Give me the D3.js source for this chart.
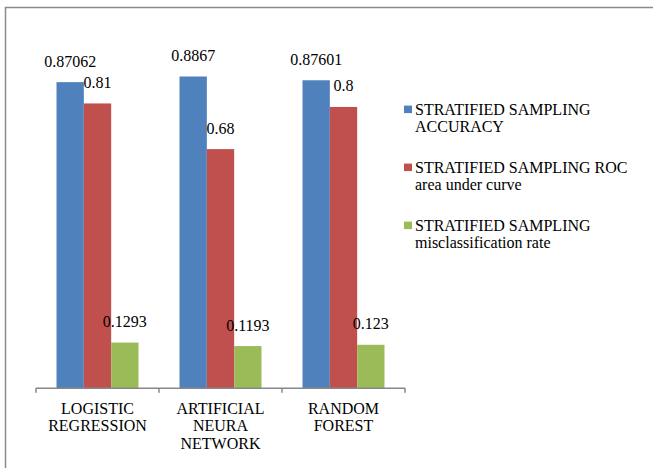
<!DOCTYPE html>
<html>
<head>
<meta charset="utf-8">
<script src="https://cdn.jsdelivr.net/npm/d3@7"></script>
<style>
  html, body { margin: 0; padding: 0; background: #ffffff; }
  svg { display: block; }
</style>
</head>
<body>
<svg id="chart" width="653" height="468"></svg>
<script>
// Model categories (multi-line axis labels)
const categories = ["LOGISTIC REGRESSION", "ARTIFICIAL NEURA NETWORK", "RANDOM FOREST"];
const categoryLines = [["LOGISTIC", "REGRESSION"], ["ARTIFICIAL", "NEURA", "NETWORK"], ["RANDOM", "FOREST"]];

// Series
const seriesNames = ["accuracy", "roc", "misclass"];
const seriesLegend = [
  ["STRATIFIED SAMPLING", "ACCURACY"],
  ["STRATIFIED SAMPLING ROC", "area under curve"],
  ["STRATIFIED SAMPLING", "misclassification rate"]
];
const seriesColors = ["#4F81BD", "#C0504D", "#9BBB59"];

const accuracy = [0.87062, 0.8867, 0.87601];
const roc = [0.81, 0.68, 0.8];
const misclass = [0.1293, 0.1193, 0.123];

const valueLabels = {
  accuracy: ["0.87062", "0.8867", "0.87601"],
  roc: ["0.81", "0.68", "0.8"],
  misclass: ["0.1293", "0.1193", "0.123"]
};

const seriesValues = { accuracy, roc, misclass };

const FONT = "'Liberation Serif', 'Times New Roman', 'DejaVu Serif', serif";

const svg = d3.select("#chart")
  .attr("font-family", FONT)
  .attr("font-size", 16);

// Chart frame
svg.append("rect")
  .attr("x", 5.5).attr("y", 7.5)
  .attr("width", 720).attr("height", 520)
  .attr("fill", "none")
  .attr("stroke", "#8a8a8a")
  .attr("stroke-width", 1.5);

const plot = { left: 36, right: 405, top: 36.7, bottom: 388 };

const x0 = d3.scaleBand()
  .domain(categories)
  .range([plot.left, plot.right])
  .paddingInner(0).paddingOuter(0);

const x1 = d3.scaleBand()
  .domain(seriesNames)
  .range([0, x0.bandwidth()])
  .paddingInner(0).paddingOuter(0.75);

const y = d3.scaleLinear().domain([0, 1]).range([plot.bottom, plot.top]);

function label(sel) {
  return sel.attr("font-family", FONT).attr("font-size", 16).attr("fill", "#000");
}

// Bars
const groups = svg.append("g").selectAll("g")
  .data(categories)
  .join("g")
  .attr("transform", d => `translate(${x0(d)},0)`);

groups.each(function(cat, ci) {
  const g = d3.select(this);
  seriesNames.forEach((s, si) => {
    const v = seriesValues[s][ci];
    g.append("rect")
      .attr("x", x1(s))
      .attr("y", y(v))
      .attr("width", x1.bandwidth())
      .attr("height", y(0) - y(v))
      .attr("fill", seriesColors[si]);
    g.append("text")
      .call(label)
      .attr("x", x1(s) + x1.bandwidth() / 2)
      .attr("y", y(v) - 15.5)
      .attr("text-anchor", "middle")
      .text(valueLabels[s][ci]);
  });
});

// Category axis
const axis = svg.append("g")
  .attr("transform", `translate(0,${plot.bottom})`)
  .call(d3.axisBottom(x0).tickSize(0).tickFormat(""));
axis.select(".domain").remove();
axis.append("line")
  .attr("x1", plot.left).attr("x2", plot.right)
  .attr("y1", 0.3).attr("y2", 0.3)
  .attr("stroke", "#878787").attr("stroke-width", 1.5);
const tickEdges = categories.map(c => x0(c)).concat([x0(categories[categories.length - 1]) + x0.bandwidth()]);
axis.selectAll(".edge-tick")
  .data(tickEdges)
  .join("line")
  .attr("class", "edge-tick")
  .attr("x1", d => d).attr("x2", d => d)
  .attr("y1", 0).attr("y2", 4.7)
  .attr("stroke", "#878787").attr("stroke-width", 1.5);

categories.forEach((c, i) => {
  const t = svg.append("text")
    .call(label)
    .attr("x", x0(c) + x0.bandwidth() / 2)
    .attr("y", plot.bottom + 25.6)
    .attr("text-anchor", "middle");
  categoryLines[i].forEach((ln, li) => {
    t.append("tspan")
      .attr("x", x0(c) + x0.bandwidth() / 2)
      .attr("dy", li === 0 ? 0 : 17.5)
      .text(ln);
  });
});

// Legend
const legend = svg.append("g").attr("transform", "translate(404,114.6)");
seriesNames.forEach((s, i) => {
  const item = legend.append("g").attr("transform", `translate(0,${i * 58})`);
  item.append("rect")
    .attr("x", 0).attr("y", -9)
    .attr("width", 8).attr("height", 7.5)
    .attr("fill", seriesColors[i]);
  const t = item.append("text").call(label).attr("x", 11).attr("y", 0);
  seriesLegend[i].forEach((ln, li) => {
    t.append("tspan").attr("x", 11).attr("dy", li === 0 ? 0 : 17.5).text(ln);
  });
});
</script>
</body>
</html>
